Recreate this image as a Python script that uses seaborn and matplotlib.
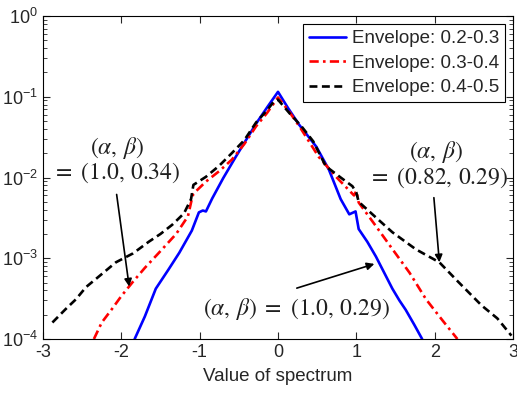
import numpy as np
import pandas as pd
import matplotlib
matplotlib.use("Agg")
import matplotlib.pyplot as plt
import seaborn as sns

# ---- data ----
labels = ["Envelope: 0.2-0.3", "Envelope: 0.3-0.4", "Envelope: 0.4-0.5"]

x_a = [-1.83, -1.70, -1.56, -1.40, -1.26, -1.10, -1.01, -0.96, -0.92, -0.84, -0.70, -0.54, -0.40,
       -0.27, -0.13, 0.00, 0.13, 0.27, 0.49, 0.65, 0.80, 0.91, 0.99, 1.03, 1.14, 1.25, 1.36, 1.46,
       1.55, 1.63, 1.74, 1.84]
y_a = [1.0e-4, 1.9e-4, 4.2e-4, 7.2e-4, 1.17e-3, 2.2e-3, 3.7e-3, 3.9e-3, 3.8e-3, 5.5e-3, 9.8e-3, 1.8e-2,
       3.0e-2, 4.8e-2, 7.6e-2, 0.115, 7.2e-2, 4.5e-2, 2.4e-2, 1.25e-2, 5.4e-3, 3.5e-3, 3.8e-3, 2.3e-3,
       1.6e-3, 1.05e-3, 6.5e-4, 4.2e-4, 3.0e-4, 2.3e-4, 1.5e-4, 1.0e-4]

x_b = [-2.35, -2.25, -2.12, -2.00, -1.86, -1.70, -1.52, -1.30, -1.15, -1.10, -1.08, -0.92, -0.75,
       -0.59, -0.43, -0.28, -0.14, 0.00, 0.14, 0.28, 0.52, 0.75, 0.97, 1.00, 1.03, 1.25, 1.46, 1.68,
       1.89, 2.10, 2.29]
y_b = [1.0e-4, 1.6e-4, 2.35e-4, 3.4e-4, 5.0e-4, 7.6e-4, 1.17e-3, 2.0e-3, 3.3e-3, 5.4e-3, 6.3e-3,
       8.9e-3, 1.2e-2, 1.66e-2, 2.6e-2, 4.3e-2, 6.3e-2, 0.098, 6.6e-2, 4.2e-2, 1.8e-2, 1.0e-2, 6.0e-3,
       6.8e-3, 4.9e-3, 2.5e-3, 1.3e-3, 6.6e-4, 3.1e-4, 1.7e-4, 1.0e-4]

x_c = [-2.88, -2.71, -2.58, -2.45, -2.30, -2.07, -1.85, -1.65, -1.50, -1.35, -1.20, -1.11, -1.08,
       -0.92, -0.75, -0.59, -0.43, -0.28, -0.14, -0.05, 0.00, 0.15, 0.30, 0.45, 0.61, 0.80, 0.95,
       1.00, 1.03, 1.25, 1.46, 1.76, 2.06, 2.31, 2.60, 2.80, 2.98]
y_c = [1.6e-4, 2.35e-4, 3.1e-4, 4.4e-4, 5.8e-4, 8.9e-4, 1.15e-3, 1.6e-3, 2.0e-3, 2.6e-3, 3.6e-3,
       5.4e-3, 8.1e-3, 1.02e-2, 1.4e-2, 2.0e-2, 2.9e-2, 4.8e-2, 6.8e-2, 0.088, 0.092, 6.2e-2, 4.3e-2,
       2.8e-2, 1.38e-2, 1.0e-2, 7.8e-3, 6.5e-3, 5.0e-3, 3.2e-3, 2.1e-3, 1.29e-3, 8.9e-4, 5.0e-4,
       2.6e-4, 1.8e-4, 1.1e-4]

xticks = [-3, -2, -1, 0, 1, 2, 3]

# ---- style ----
sns.set_style("ticks")
plt.rcParams["font.family"] = ["Liberation Sans", "DejaVu Sans"]
plt.rcParams["mathtext.fontset"] = "custom"
plt.rcParams["mathtext.rm"] = "Liberation Sans"
plt.rcParams["mathtext.it"] = "Liberation Sans:italic"
plt.rcParams["mathtext.bf"] = "Liberation Sans:bold"

df = pd.concat([
    pd.DataFrame({"x": x_a, "y": y_a, "series": labels[0]}),
    pd.DataFrame({"x": x_b, "y": y_b, "series": labels[1]}),
    pd.DataFrame({"x": x_c, "y": y_c, "series": labels[2]}),
], ignore_index=True)

fig = plt.figure(figsize=(5.17, 3.96), dpi=100)
ax = fig.add_axes([43 / 517, 1 - 339 / 396, 470 / 517, 323 / 396])

styles = [("#0000ff", "-"), ("#ff0000", (0, (3.5, 1.6, 1, 1.6))), ("#000000", (0, (3, 1.7)))]
for lab, (col, ls) in zip(labels, styles):
    sns.lineplot(data=df[df["series"] == lab], x="x", y="y", color=col, linestyle=ls,
                 lw=1.9, label=lab, ax=ax, sort=False, estimator=None)

ax.set_yscale("log")
ax.set_xlim(-3, 3)
ax.set_ylim(1e-4, 1)
ax.set_xticks(xticks)
ax.set_xticklabels([str(t) for t in xticks])
ax.set_xlabel("Value of spectrum", fontsize=13.5, labelpad=5)
ax.set_ylabel("")
ax.tick_params(which="both", direction="in", top=True, right=True, labelsize=13)
ax.tick_params(which="major", length=5, width=0.8)
ax.tick_params(which="minor", length=3, width=0.6)
for s in ax.spines.values():
    s.set_linewidth(0.8)
    s.set_color("black")

leg = ax.legend(loc="upper right", fontsize=13.5, frameon=True, fancybox=False, framealpha=1,
                edgecolor="black", handlelength=2.0, handletextpad=0.3, labelspacing=0.4,
                borderpad=0.3, borderaxespad=0.45)
leg.get_frame().set_linewidth(0.8)

afs = 17
tkw = dict(ha="center", va="center", fontsize=afs, math_fontfamily="stix", color="#202020")
ax.text(-2.06, 10 ** -1.63, r"$(\alpha,\,\beta)$", **tkw)
ax.text(-2.06, 10 ** -1.94, r"$=\ (1.0,\,0.34)$", **tkw)
ax.text(2.02, 10 ** -1.69, r"$(\alpha,\,\beta)$", **tkw)
ax.text(2.04, 10 ** -2.00, r"$=\ (0.82,\,0.29)$", **tkw)
ax.text(0.24, 10 ** -3.63, r"$(\alpha,\,\beta)\ =\ (1.0,\,0.29)$", **tkw)

akw = dict(arrowstyle="-|>", color="black", lw=1.2, mutation_scale=11, shrinkA=0, shrinkB=0)
ax.annotate("", xy=(-1.90, 10 ** -3.35), xytext=(-2.06, 10 ** -2.21), arrowprops=akw)
ax.annotate("", xy=(2.06, 10 ** -3.05), xytext=(1.99, 10 ** -2.25), arrowprops=akw)
ax.annotate("", xy=(1.23, 10 ** -3.07), xytext=(0.24, 10 ** -3.37), arrowprops=akw)

fig.savefig("out.png", dpi=100)
